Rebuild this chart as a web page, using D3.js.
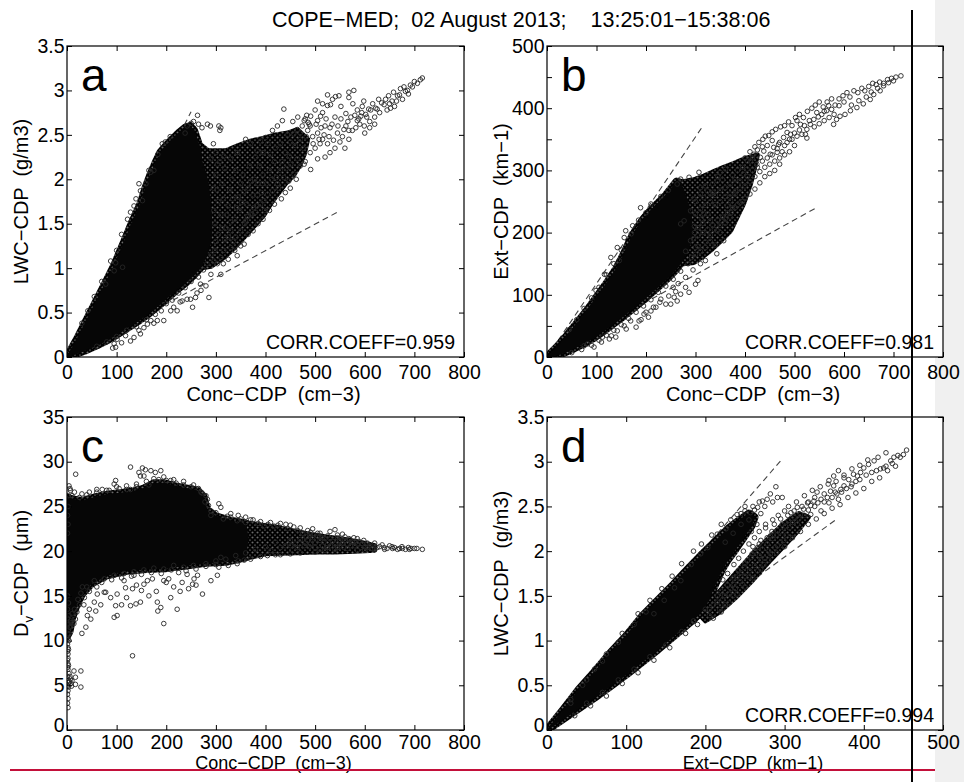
<!DOCTYPE html>
<html>
<head>
<meta charset="utf-8">
<script src="https://cdn.jsdelivr.net/npm/d3@7"></script>
<style>
  body { margin: 0; background: #fff; }
  svg { display: block; }
  text { font-family: "Liberation Sans", Arial, Helvetica, sans-serif; fill: #000; }
</style>
</head>
<body>
<svg id="chart" width="964" height="782"></svg>
<script>
// ---- data ----
const title = 'COPE\u2212MED;  02 August 2013;    13:25:01\u221215:38:06';

const xTicksConc = d3.range(0, 801, 100);
const yTicksLwc = d3.range(0, 3.51, 0.5);
const yTicksExt = d3.range(0, 501, 50);
const yTicksDv = d3.range(0, 36, 5);
const xTicksExt = d3.range(0, 501, 100);

const corr = ['0.959', '0.981', null, '0.994'];

// saturated (all-black) part of each cloud
const coreA = [[0,0],[20,0.2],[40,0.42],[60,0.64],[80,0.86],[95,1.03],[108,1.2],[120,1.36],[130,1.5],[140,1.62],[150,1.75],[158,1.9],[168,2.05],[178,2.18],[188,2.3],[200,2.38],[212,2.45],[225,2.52],[238,2.58],[248,2.6],[256,2.55],[262,2.45],[268,2.35],[272,2.2],[278,2.1],[284,1.98],[288,1.8],[291,1.6],[292,1.4],[288,1.25],[280,1.12],[268,1.0],[255,0.92],[240,0.84],[222,0.76],[205,0.68],[185,0.58],[165,0.49],[145,0.41],[125,0.34],[105,0.27],[85,0.2],[60,0.13],[35,0.07],[15,0.03]];
const coreB = [[0,0],[20,16],[40,34],[60,54],[80,74],[100,96],[120,118],[140,142],[155,165],[168,188],[180,205],[195,222],[210,236],[225,248],[240,260],[252,272],[262,282],[270,280],[276,268],[282,255],[288,240],[292,222],[294,205],[292,188],[285,170],[275,156],[262,142],[248,130],[232,118],[215,106],[195,92],[175,79],[155,66],[135,54],[115,42],[95,31],[75,22],[55,14],[35,7],[15,2]];
const coreC = [[0,26],[10,25.8],[30,25.6],[55,26.0],[80,26.3],[110,26.5],[135,26.7],[155,27.0],[175,27.6],[195,27.6],[215,27.3],[240,27.0],[262,26.8],[275,26.1],[282,24.6],[300,23.9],[330,23.4],[360,23.1],[365,21.5],[360,19.3],[320,18.8],[280,18.7],[240,18.4],[200,18.1],[160,18.0],[120,17.8],[80,17.3],[50,16.4],[30,15.2],[18,13.8],[10,12.5],[5,11.0],[0,10.5]];
const coreD = [[0,0],[20,0.22],[40,0.45],[60,0.65],[80,0.86],[100,1.05],[120,1.27],[140,1.45],[160,1.63],[180,1.82],[200,2.0],[215,2.13],[230,2.26],[245,2.36],[255,2.42],[262,2.38],[258,2.28],[248,2.15],[238,2.02],[228,1.9],[220,1.78],[212,1.62],[204,1.45],[195,1.32],[180,1.2],[160,1.05],[140,0.9],[120,0.76],[100,0.62],[80,0.49],[60,0.36],[40,0.24],[20,0.12]];

// heavily overlapped parts of each cloud
const haloA = [[262,2.42],[285,2.32],[320,2.32],[345,2.38],[370,2.43],[395,2.46],[420,2.5],[445,2.52],[464,2.56],[485,2.45],[478,2.28],[468,2.15],[457,2.05],[440,1.95],[424,1.83],[410,1.72],[397,1.6],[378,1.48],[357,1.35],[336,1.22],[316,1.12],[290,1.02],[270,1.0]];
const haloB = [[262,280],[283,283],[300,286],[317,291],[337,298],[357,305],[377,311],[397,318],[425,325],[418,300],[411,278],[404,262],[397,246],[384,225],[371,203],[350,186],[330,171],[312,160],[297,152],[275,150]];
const haloC = [[330,23.5],[380,23.0],[420,22.7],[460,22.2],[490,21.9],[520,21.6],[560,21.3],[600,20.9],[620,20.6],[620,20.1],[580,20.0],[540,19.9],[500,19.9],[450,19.8],[400,19.7],[360,19.2],[330,19.0]];
const haloD = [[192,1.3],[200,1.4],[218,1.55],[238,1.75],[258,1.95],[278,2.13],[298,2.3],[318,2.42],[330,2.38],[316,2.22],[298,2.05],[278,1.86],[258,1.66],[238,1.48],[218,1.32],[200,1.22]];

// individually visible markers
const ptsA = [[716,3.14],[692,3.06],[679,3.04],[682,2.99],[666,2.94],[676,2.90],[655,2.88],[639,2.84],[625,2.79],[608,2.79],[602,2.73],[592,2.71],[585,2.66],[582,2.58],[599,2.60],[568,2.55],[562,2.60],[568,2.45],[578,3.0],[568,2.98],[568,2.92],[548,2.94],[541,2.93],[531,2.84],[525,2.83],[515,2.75],[511,2.71],[505,2.66],[491,2.71],[488,2.62],[478,2.66],[464,2.56],[457,2.51],[437,2.79],[434,2.66],[424,2.60],[414,2.55],[400,2.47],[390,2.43],[383,2.32],[370,2.40],[360,2.45],[343,2.30],[330,2.23],[316,2.26],[303,2.17],[290,2.23],[310,2.58],[283,2.62],
  [485,2.55],[495,2.48],[505,2.52],[515,2.45],[525,2.40],[537,2.44],[480,2.68],[483,2.72],[486,2.64],[474,2.60],[470,2.45],[460,2.38],[450,2.42],[445,2.50],[440,2.30],[430,2.40],[420,2.35],[410,2.28],[405,2.40],[395,2.30],[380,2.25],[545,2.52],[555,2.48],[575,2.55],[590,2.62],[610,2.65],[620,2.70],[630,2.75],[645,2.78],[600,2.52],[520,2.60],[530,2.58],[455,2.65],[465,2.70],[500,2.78],[650,2.85],[660,2.82],[670,2.95],[585,2.78],[595,2.82],
  [505,2.23],[491,2.11],[478,2.17],[464,2.23],[451,2.17],[457,2.06],[447,1.98],[437,2.02],[430,2.10],[424,1.95],[414,1.87],[404,1.83],[397,1.76],[390,1.72],[380,1.63],[370,1.61],[360,1.53],[350,1.42],[340,1.35],[357,1.27],[343,1.14],[330,1.23],[316,1.20],[310,1.12],[296,1.08],[310,0.93],[290,0.93],[286,0.67],[269,0.82],[259,0.67],[253,0.56],[249,0.65],[242,0.65],[232,0.63],[222,0.52],[209,0.52],[195,0.41],[182,0.41],[169,0.41],[162,0.37],[155,0.33],[148,0.26],[135,0.22],[128,0.18],[118,0.24],[101,0.20],[98,0.11],[95,0.15],
  [295,1.9],[300,2.05],[305,1.75],[310,1.6],[312,1.95],[318,2.12],[320,1.45],[325,1.7],[328,1.88],[332,2.0],[335,1.3],[338,1.55],[340,2.1],[345,1.8],[348,1.65],[350,1.95],[355,2.05],[358,1.5],[362,1.72],[365,1.9],[368,2.15],[372,1.6],[375,1.82],[378,2.0],[382,1.7],[385,1.95],[388,2.15],[392,1.85],[395,2.05],[398,1.65],[402,1.95],[408,2.1],[412,2.0],[418,2.2],[422,2.02],[426,1.9],[433,2.2],[442,2.12],[448,2.26],[298,1.5],[300,1.3],[305,1.38],[312,1.45],[318,1.32],[296,1.65],[302,1.88],[308,2.2],[315,1.78],[322,1.6],[330,1.52],[334,1.78],[342,1.68],[352,1.74],[356,1.86],[364,1.58],[370,1.98],[376,1.68],[384,1.82],[394,1.95],[300,2.3],[295,2.4],[298,1.2],[303,1.05],[315,1.05],[325,1.35],[330,1.42],
  [128,1.63],[148,1.87],[159,1.95],[169,2.08],[175,2.10],[192,2.40],[152,1.76],[139,1.78],[263,2.72],[289,2.60],[306,2.60],[308,2.55],[98,1.06],[95,0.97],[112,1.01],[78,0.82],[265,2.62],[255,2.65],[250,2.63],[242,2.60],[272,2.58],[238,2.52],[208,2.48],[198,2.42],[183,2.28],[165,2.1],[145,1.95],[135,1.7],[122,1.55],[110,1.38],[100,1.2],[88,1.08],[70,0.85],[55,0.68],[42,0.52],[30,0.38],
  [290,1.15],[282,1.05],[275,0.98],[265,0.9],[250,0.85],[238,0.78],[225,0.72],[212,0.64],[200,0.6],[190,0.52],[178,0.48],[160,0.42],[140,0.34],[120,0.3],[100,0.23],[80,0.17],[60,0.12],[270,0.75],[280,0.8],[262,0.72],[228,0.62],[215,0.56],[175,0.38],[145,0.3],[110,0.16],[92,0.1],
  [470,2.52],[476,2.35],[482,2.48],[490,2.6],[496,2.4],[502,2.62],[508,2.45],[512,2.58],[518,2.5],[522,2.68],[528,2.48],[534,2.62],[540,2.7],[546,2.6],[552,2.68],[558,2.56],[562,2.74],[566,2.65],[572,2.7],[576,2.85],[580,2.72],[588,2.68],[594,2.75],[598,2.88],[604,2.7],[612,2.78],[616,2.85],[622,2.8],[628,2.9],[634,2.86],[642,2.9],[648,2.94],[652,2.8],[658,2.98],[664,2.88],[672,3.02],[686,3.0],[696,3.04],[700,3.1],[706,3.08],[712,3.12],[688,2.96],[610,2.58],[620,2.62],[540,2.35],[550,2.42],[530,2.3],[520,2.25],[480,2.2],[470,2.15],[462,2.0],[450,1.9],[440,1.85],[432,1.78],[418,1.72],[408,1.65],[395,1.55],[385,1.5],[375,1.42],[365,1.38],[350,1.25],[338,1.2],[325,1.1],[500,2.35],[490,2.3],[510,2.4],[560,2.35],[525,2.95],[535,2.9],[552,2.82],[505,2.88],[515,2.85]];

const ptsB = [[715,452],[690,441],[680,436],[673,428],[660,422],[653,414],[639,407],[626,401],[613,396],[602,390],[592,387],[585,382],[579,374],[569,404],[565,396],[555,390],[545,393],[539,382],[532,374],[525,366],[522,358],[512,374],[505,380],[492,358],[485,361],[478,353],[468,342],[465,329],[458,337],[451,326],[441,355],[438,331],[431,321],[424,310],[418,326],[411,315],[404,302],[397,294],[390,283],[381,267],[371,251],[364,243],[361,302],[350,297],[344,283],[334,278],[324,267],[317,256],[310,272],[307,297],[297,254],[290,235],[277,219],[270,214],[290,187],[317,230],[330,219],[344,203],[357,187],[343,166],[320,155],[305,123],[300,117],[287,104],[270,101],[263,90],[257,96],[250,85],[240,85],[230,93],[220,80],[210,74],[196,69],[186,58],[169,58],[156,50],[142,42],[139,32],[126,29],[112,32],[95,16],[82,21],[75,18],
  [189,240],[173,211],[159,203],[156,192],[142,176],[129,160],[146,155],[116,133],[99,107],[210,246],[263,278],[287,289],[270,286],[230,258],[245,268],[200,232],[185,220],[170,198],[150,172],[135,150],[120,132],[105,112],[90,95],[75,78],[60,60],[45,44],
  [470,345],[480,340],[490,350],[500,360],[510,365],[520,372],[530,380],[548,386],[560,395],[575,398],[590,404],[600,410],[615,405],[630,412],[645,418],[655,426],[668,432],[455,348],[445,340],[435,338],[425,333],[415,320],[405,315],[395,305],[385,300],[375,292],[380,285],[370,278],[360,272],[350,268],[340,260],[330,250],[320,244],[310,238],[300,230],[470,320],[460,315],[450,310],[440,305],[430,298],[420,290],[410,282],[400,275],[390,270],[380,262],[395,250],[385,245],[375,240],[365,232],[355,225],[345,220],[335,212],[325,205],[315,200],[305,195],[298,210],[300,250],[310,262],[320,275],[330,262],[340,245],[350,250],[360,258],[370,262],[345,290],[355,285],[335,265],[325,230],[315,215],[305,178],[300,165],[310,150],[295,140],[280,128],[265,118],[255,112],[330,196],[320,185],[340,180],[350,200],[360,215],[370,225],
  [285,150],[270,138],[255,125],[240,114],[225,104],[210,92],[195,82],[180,72],[165,62],[150,52],[135,43],[120,35],[105,27],[90,19],[70,12],[50,7],[280,112],[260,105],[246,98],[228,88],[215,80],[200,72],[205,64],[190,60],[160,45],[130,34],[110,24],[180,48],[280,170],[292,160],
  [400,320],[410,330],[420,338],[428,345],[436,350],[448,356],[455,362],[462,366],[472,370],[480,372],[488,378],[495,372],[502,385],[510,390],[518,385],[526,395],[535,400],[542,405],[550,410],[558,402],[566,410],[575,415],[582,405],[590,415],[598,420],[606,425],[612,418],[620,428],[628,425],[636,432],[642,428],[650,435],[658,440],[665,438],[672,442],[680,440],[688,446],[696,448],[705,450],[700,444],[405,290],[415,300],[425,305],[435,315],[445,320],[455,325],[465,335],[475,330],[485,345],[495,350],[505,355],[515,358],[525,352],[540,370],[550,375],[560,380],[570,385],[580,390],[420,270],[430,280],[440,290],[450,295],[460,300],[470,310],[480,325],[490,330],[500,340],[410,262],[400,255],[390,248],[380,240],[372,232],[360,222],[350,212],[338,205],[330,186],[320,176],[310,170],[300,176],[296,190],[298,200],[305,208],[312,222]];

const ptsC = [[128,29.4],[17.5,28.6],[145,28.8],[152,29.3],[158,29.1],[169,29.0],[178,28.8],[189,29.0],[148,28.4],[155,28.4],[98,27.9],[95,27.5],[71,26.9],[128,26.9],[209,27.9],[4,27.3],[7,26.8],[306,25.3],[310,24.9],[283,25.8],[290,24.5],[323,23.9],[343,23.4],[370,23.5],[397,22.8],[417,22.8],[441,23.0],[457,22.7],[491,22.1],[505,21.7],[525,21.7],[545,21.8],[568,21.4],[578,21.5],[585,20.8],[592,20.4],[605,20.4],[625,20.4],[639,20.4],[656,20.3],[666,20.2],[676,20.3],[682,20.2],[693,20.3],[716,20.2],[572,20.6],[558,20.4],[545,20.4],[531,20.6],[518,21.0],[491,20.8],[478,20.6],[464,20.4],[451,20.6],[430,20.4],[411,20.05],[404,19.5],[357,19.0],[343,18.6],[310,19.3],
  [485,21.2],[495,21.5],[500,20.9],[510,21.2],[515,20.6],[520,21.4],[535,21.1],[540,20.8],[550,21.2],[555,20.9],[560,21.6],[565,20.8],[575,21.0],[580,20.6],[588,21.1],[595,20.8],[600,20.5],[610,20.6],[615,20.3],[630,20.5],[645,20.3],[650,20.6],[660,20.4],[670,20.3],[688,20.4],[700,20.3],[485,22.3],[495,22.5],[510,22.0],[530,22.2],[540,22.4],[555,21.9],[500,19.9],[520,20.1],[540,20.2],[470,19.8],[450,19.7],[430,19.6],[482,21.6],[488,20.5],
  [306,18.2],[303,17.3],[290,16.7],[273,15.2],[263,17.3],[256,16.9],[253,16.3],[242,17.4],[232,16.5],[222,13.5],[209,14.8],[205,16.9],[195,16.7],[189,13.7],[183,13.3],[182,14.3],[195,11.9],[172,16.9],[162,16.7],[155,16.3],[148,14.3],[139,14.1],[128,13.9],[132,8.3],[135,17.3],[132,15.8],[118,15.9],[115,16.7],[101,15.2],[98,13.9],[101,12.8],[95,12.6],[78,15.4],[75,15.4],[61,15.2],[55,14.3],[58,13.3],[41,12.8],[48,12.4],[31,16.0],[34,14.0],[17,12.4],[14,11.9],[14,6.6],[28,6.6],[17,5.9],[28,4.8],[17,5.1],[7,5.7],
  [260,18.0],[240,17.8],[225,17.6],[210,17.9],[190,17.5],[170,17.6],[150,17.4],[130,17.2],[110,17.0],[90,16.8],[70,16.5],[60,16.0],[45,15.5],[35,14.8],[25,14.0],[20,13.2],[12,12.0],[280,18.3],[300,18.5],[325,18.4],[345,18.9],[370,19.1],[390,19.4],[420,19.6],
  [2,2.5],[2,3.5],[2,4.4],[2,5.5],[4,6.3],[2,7.4],[2,8.5],[2,9.2],[4,10],[4,10.7],[6,11.5],[7,12.2],[1,3.0],[1,4.0],[3,4.8],[1,5.0],[3,5.3],[5,5.4],[1,6.0],[2,6.8],[1,7.0],[3,7.2],[1,7.8],[2,8.0],[1,8.8],[3,9.0],[1,9.6],[2,10.2],[1,10.8],[3,11.2],[2,11.8],[1,12.5],[4,12.8],[8,5.2],[10,5.5],[6,6.0],[9,4.9],[1,13.5],[3,14.2],[1,15],
  [10,26.2],[25,26.0],[40,26.3],[60,26.6],[85,26.8],[105,27.0],[120,26.9],[140,27.2],[165,27.4],[185,28.0],[200,27.9],[220,27.6],[235,27.4],[250,27.2],[265,27.0],[272,26.5],[278,25.5],[290,24.0],[300,24.3],[315,23.6],[330,23.8],[350,23.6],[360,23.2],[385,23.1],[405,23.0],[425,22.9],[445,22.5],[465,22.3],[475,22.0],[2,25.0],[1,24],[2,23],[1,22],
  [490,21.8],[505,22.0],[515,21.5],[530,21.4],[545,21.5],[560,21.2],[570,21.3],[585,21.4],[598,21.2],[605,20.9],[620,20.9],[635,20.7],[640,20.2],[655,20.5],[675,20.5],[690,20.2],[705,20.3],[500,20.4],[510,20.2],[525,20.4],[550,20.6],[565,20.3],[585,20.1],[600,20.1],[620,20.2],[480,20.9],[470,21.3],[460,20.8],[450,21.2],[440,20.6],[420,21.0],[400,20.5],[380,20.2],[360,19.8],[340,19.5],[320,19.1],[300,18.9],[280,18.6],[255,18.4],[235,18.2],[215,18.4],[195,18.0],[175,18.1],[155,17.9],[135,17.7],[115,17.5],[95,17.3],[75,16.9],[55,16.7],[40,16.0],[28,15.3],[22,14.6],[15,13.5],[10,13.0],[8,12.0],[5,11.5],[330,24.2],[345,24.0],[360,23.8],[375,23.5],[390,23.3],[410,23.2],[430,23.1],[450,22.9],[470,22.6],[285,25.1],[280,26.2],[270,26.6],[255,27.4],[235,27.8],[215,28.0],[195,28.3],[175,28.1],[160,27.8],[140,27.5],[120,27.3],[100,27.2],[80,26.8],[60,26.9],[45,26.6],[30,26.4],[15,26.6],[6,27.0],[3,26.2],[200,16.5],[215,16.0],[228,15.5],[245,15.8],[260,16.2],[180,15.5],[165,15.0],[150,15.6],[140,16.2],[120,14.8],[110,14.0],[88,14.8],[68,14.0],[45,13.5],[38,11.5],[30,10.8]];

const ptsD = [[454,3.13],[443,3.07],[438,3.05],[434,3.01],[425,2.93],[421,2.92],[413,3.01],[406,2.97],[400,2.93],[396,2.88],[392,2.84],[387,2.86],[385,2.75],[381,2.80],[375,2.73],[371,2.69],[366,2.64],[362,2.73],[356,2.79],[358,2.67],[354,2.60],[350,2.64],[346,2.58],[341,2.66],[337,2.56],[333,2.51],[329,2.54],[324,2.47],[320,2.41],[316,2.49],[312,2.38],[308,2.43],[305,2.34],[301,2.28],[295,2.36],[291,2.23],[287,2.30],[282,2.17],[276,2.26],[270,2.12],[266,2.04],[259,1.97],[253,1.89],[249,1.82],[245,1.76],[240,1.71],[236,1.63],[232,1.58],[224,1.50],[215,1.43],[299,2.12],[291,2.06],[282,1.97],[274,1.85],[266,1.78],[255,1.71],[247,1.63],[316,2.30],[333,2.41],[346,2.45],[356,2.54],[368,2.58],[362,2.84],[368,2.90],[375,2.82],
  [220,1.55],[228,1.62],[235,1.70],[242,1.78],[250,1.86],[258,1.93],[262,1.84],[256,1.78],[250,1.72],[244,1.66],[238,1.58],[230,1.52],[222,1.46],[268,1.95],[272,2.02],[278,2.08],[285,2.14],[290,2.18],[296,2.22],[302,2.18],[295,2.1],[288,2.04],[280,2.0],[275,1.92],[262,2.0],[270,1.9],[306,2.26],[310,2.32],[318,2.36],[325,2.4],[330,2.46],[338,2.5],[342,2.54],[350,2.55],[360,2.6],[364,2.66],[372,2.66],[378,2.7],[384,2.72],[390,2.78],[395,2.8],[403,2.85],[410,2.88],[416,2.9],[428,2.95],[436,2.98],[446,3.05],[338,2.6],[330,2.55],[322,2.5],[312,2.45],[304,2.4],[297,2.3],[284,2.22],[278,2.15],[268,2.08],[260,2.05],[215,1.5],[210,1.4],[205,1.35],[225,1.4],[218,1.35],[235,1.5],
  [289,2.72],[291,2.60],[297,2.60],[282,2.64],[278,2.58],[272,2.56],[266,2.49],[257,2.43],[240,2.41],[226,2.25],[215,2.19],[203,2.04],[194,1.97],[182,1.85],[169,1.67],[161,1.59],[148,1.45],[135,1.30],[268,2.55],[260,2.5],[250,2.45],[262,2.46],[275,2.5],[285,2.55],[270,2.42],[255,2.35],[245,2.3],[235,2.2],[225,2.1],
  [110,1.18],[90,0.98],[70,0.77],[50,0.56],[30,0.34],[125,1.32],[150,0.95],[130,0.82],[110,0.68],[90,0.56],[70,0.42],[50,0.3],[170,1.1],[185,1.22],[200,1.35],
  [30,0.3],[45,0.5],[60,0.68],[75,0.85],[95,1.08],[115,1.3],[130,1.45],[145,1.58],[158,1.72],[170,1.86],[185,2.0],[195,2.08],[208,2.18],[220,2.3],[232,2.35],[245,2.42],[250,2.5],[35,0.16],[55,0.27],[75,0.38],[95,0.52],[115,0.64],[135,0.78],[155,0.92],[175,1.08],[190,1.18],[205,1.28],[210,1.25],[220,1.32],[230,1.42],[240,1.52],[250,1.6],[260,1.7],[270,1.8],[280,1.9],[290,1.98],[300,2.05],[310,2.15],[320,2.22],[330,2.3],[340,2.36],[350,2.42],[360,2.48],[370,2.52],[380,2.6],[390,2.65],[400,2.7],[410,2.78],[420,2.82],[430,2.9],[440,2.95],[450,3.08],[305,2.5],[315,2.55],[325,2.62],[335,2.68],[345,2.72],[355,2.75],[365,2.78],[375,2.85],[385,2.92],[395,2.96],[405,3.02],[418,3.05],[428,3.1],[300,2.45],[292,2.4],[285,2.35],[276,2.3],[268,2.22],[262,2.15],[255,2.08],[248,2.0],[242,1.92],[236,1.85],[228,1.75],[222,1.68],[265,2.3],[258,2.22]];

// dashed bounding lines (end points, from origin)
const dashA = [[[0,0],[250,2.76]], [[0,0],[545,1.63]]];
const dashB = [[[0,0],[312,368]], [[0,0],[542,239]]];
const dashD = [[[0,0],[298,3.04]], [[0,0],[366,2.36]]];

// ---- drawing ----
const svg = d3.select('#chart');
const FS_TICK = 19.5, FS_LAB = 20;

// texture of many overlapping open-circle markers
const tile = 5;
const rings = svg.append('defs').append('pattern').attr('id', 'rings')
  .attr('patternUnits', 'userSpaceOnUse').attr('width', tile).attr('height', tile);
rings.append('rect').attr('width', tile).attr('height', tile).attr('fill', '#6a6a6a');
[[tile / 2, tile / 2], [0, 0], [tile, 0], [0, tile], [tile, tile]].forEach(([cx, cy]) => {
  rings.append('circle').attr('cx', cx).attr('cy', cy).attr('r', 2.2)
    .attr('fill', 'none').attr('stroke', '#000').attr('stroke-width', 1.1);
});

svg.append('rect').attr('width', 964).attr('height', 782).attr('fill', '#fff');
svg.append('rect').attr('x', 935).attr('width', 29).attr('height', 782).attr('fill', '#f0f0f0');

svg.append('text')
  .attr('x', 272).attr('y', 27)
  .attr('font-size', 21.5)
  .style('white-space', 'pre')
  .text(title);

const panels = [
  { id: 'a', box: [67, 46, 464, 357], xd: [0, 800], yd: [0, 3.5], xt: xTicksConc, yt: yTicksLwc,
    core: coreA, halo: haloA, pts: ptsA, dash: dashA, corr: corr[0], tickPad: 8, zeroLift: 0, labOff: 44, labFs: 20,
    xlab: 'Conc\u2212CDP  (cm\u22123)', ylab: ['LWC\u2212CDP  (g/m3)'], yfmt: d => d },
  { id: 'b', box: [547, 46, 943, 357], xd: [0, 800], yd: [0, 500], xt: xTicksConc, yt: yTicksExt,
    core: coreB, halo: haloB, pts: ptsB, dash: dashB, corr: corr[1], tickPad: 8, zeroLift: 0, labOff: 44, labFs: 20,
    xlab: 'Conc\u2212CDP  (cm\u22123)', ylab: ['Ext\u2212CDP  (km\u22121)'], yfmt: d => (d % 100 === 0 ? d : '') },
  { id: 'c', box: [67, 417, 464, 730], xd: [0, 800], yd: [0, 35], xt: xTicksConc, yt: yTicksDv,
    core: coreC, halo: haloC, pts: ptsC, dash: [], corr: corr[2], tickPad: 5, zeroLift: 5, labOff: 38.5, labFs: 18,
    xlab: 'Conc\u2212CDP  (cm\u22123)', ylab: null, yfmt: d => d },
  { id: 'd', box: [547, 417, 943, 730], xd: [0, 500], yd: [0, 3.5], xt: xTicksExt, yt: yTicksLwc,
    core: coreD, halo: haloD, pts: ptsD, dash: dashD, corr: corr[3], tickPad: 5, zeroLift: 5, labOff: 38.5, labFs: 18,
    xlab: 'Ext\u2212CDP  (km\u22121)', ylab: ['LWC\u2212CDP  (g/m3)'], yfmt: d => d }
];

panels.forEach(p => {
  const [x0, y0, x1, y1] = p.box;
  const x = d3.scaleLinear().domain(p.xd).range([x0, x1]);
  const y = d3.scaleLinear().domain(p.yd).range([y1, y0]);
  const g = svg.append('g');

  g.append('rect').attr('x', x0).attr('y', y0).attr('width', x1 - x0).attr('height', y1 - y0).attr('fill', '#fff');

  const clipId = 'clip-' + p.id;
  svg.append('clipPath').attr('id', clipId)
    .append('rect').attr('x', x0).attr('y', y0).attr('width', x1 - x0).attr('height', y1 - y0);
  const plot = g.append('g').attr('clip-path', `url(#${clipId})`);

  plot.selectAll('line.dash').data(p.dash).join('line')
    .attr('x1', d => x(d[0][0])).attr('y1', d => y(d[0][1]))
    .attr('x2', d => x(d[1][0])).attr('y2', d => y(d[1][1]))
    .attr('stroke', '#444').attr('stroke-width', 1.1).attr('stroke-dasharray', '6,4');

  const area = d3.line().x(d => x(d[0])).y(d => y(d[1])).curve(d3.curveLinearClosed);
  plot.append('path').attr('d', area(p.halo))
    .attr('fill', 'url(#rings)').attr('stroke', 'url(#rings)').attr('stroke-width', 5).attr('stroke-linejoin', 'round');
  plot.append('path').attr('d', area(p.core))
    .attr('fill', 'none').attr('stroke', 'url(#rings)').attr('stroke-width', 8).attr('stroke-linejoin', 'round');
  plot.append('path').attr('d', area(p.core))
    .attr('fill', '#060606').attr('stroke', '#060606').attr('stroke-width', 1).attr('stroke-linejoin', 'round');

  plot.selectAll('circle').data(p.pts).join('circle')
    .attr('cx', d => x(d[0])).attr('cy', d => y(d[1])).attr('r', 2.3)
    .attr('fill', 'none').attr('stroke', '#262626').attr('stroke-width', 0.9);

  // axes, MATLAB style inward ticks on all four sides
  const styleAxis = sel => {
    sel.select('.domain').remove();
    sel.selectAll('.tick line').attr('stroke', '#000');
    sel.selectAll('text').attr('font-size', FS_TICK).attr('font-family', '"Liberation Sans", Arial, sans-serif').attr('fill', '#000');
  };
  g.append('g').attr('transform', `translate(0,${y1})`)
    .call(d3.axisBottom(x).tickValues(p.xt).tickSizeInner(-5).tickSizeOuter(0).tickPadding(p.tickPad).tickFormat(d3.format('d')))
    .call(styleAxis);
  g.append('g').attr('transform', `translate(0,${y0})`)
    .call(d3.axisTop(x).tickValues(p.xt).tickSizeInner(-5).tickSizeOuter(0).tickFormat(''))
    .call(styleAxis);
  g.append('g').attr('transform', `translate(${x0},0)`)
    .call(d3.axisLeft(y).tickValues(p.yt).tickSizeInner(-5).tickSizeOuter(0).tickPadding(2.5).tickFormat(p.yfmt))
    .call(styleAxis)
    .call(sel => sel.selectAll('.tick text').filter(d => d === 0).attr('y', -p.zeroLift));
  g.append('g').attr('transform', `translate(${x1},0)`)
    .call(d3.axisRight(y).tickValues(p.yt).tickSizeInner(-5).tickSizeOuter(0).tickFormat(''))
    .call(styleAxis);

  g.append('rect').attr('x', x0).attr('y', y0).attr('width', x1 - x0).attr('height', y1 - y0)
    .attr('fill', 'none').attr('stroke', '#000').attr('stroke-width', 1.2);

  // panel letter
  g.append('text').attr('x', x0 + 14).attr('y', y0 + 45).attr('font-size', 46).text(p.id);

  if (p.corr) {
    g.append('text').attr('x', x1 - 9).attr('y', y1 - 8).attr('text-anchor', 'end')
      .attr('font-size', FS_TICK).text('CORR.COEFF=' + p.corr);
  }

  g.append('text').attr('x', (x0 + x1) / 2 + 8).attr('y', y1 + p.labOff).attr('text-anchor', 'middle')
    .attr('font-size', p.labFs).style('white-space', 'pre').text(p.xlab);

  const yl = g.append('text')
    .attr('transform', `translate(${x0 - 39},${(y0 + y1) / 2}) rotate(-90)`)
    .attr('text-anchor', 'middle').attr('font-size', FS_LAB).style('white-space', 'pre');
  if (p.ylab) {
    yl.text(p.ylab[0]);
  } else {
    yl.append('tspan').text('D');
    yl.append('tspan').attr('font-size', 13).attr('dy', 5).text('v');
    yl.append('tspan').attr('dy', -5).text('\u2212CDP  (\u03bcm)');
  }
});

// frame decorations of the screenshot
svg.append('line').attr('x1', 10).attr('x2', 935).attr('y1', 770).attr('y2', 770)
  .attr('stroke', '#c3103a').attr('stroke-width', 2.2);
svg.append('line').attr('x1', 912).attr('x2', 912).attr('y1', 10).attr('y2', 782)
  .attr('stroke', '#000').attr('stroke-width', 2);
</script>
</body>
</html>
